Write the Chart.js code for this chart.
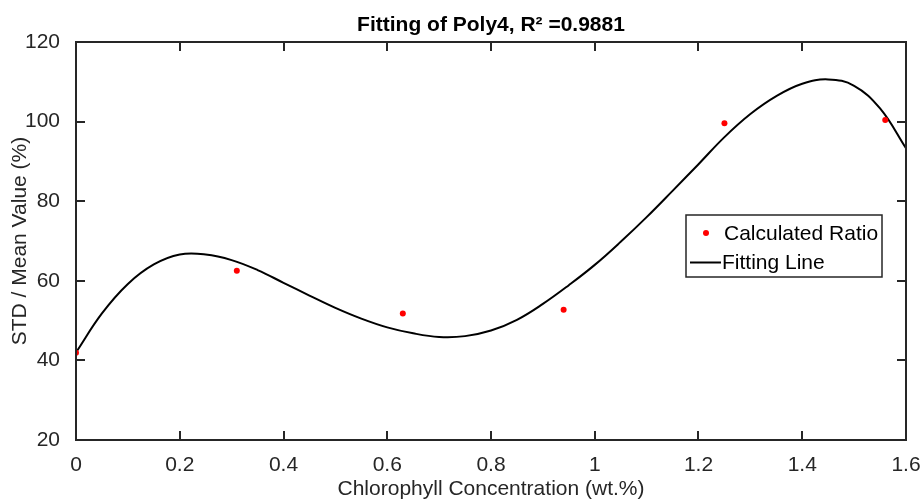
<!DOCTYPE html>
<html>
<head>
<meta charset="utf-8">
<script src="https://cdn.jsdelivr.net/npm/chart.js@4/dist/chart.umd.min.js"></script>
<style>
  html, body { margin: 0; padding: 0; background: #fff; }
  #wrap { width: 922px; height: 500px; }
</style>
</head>
<body>
<div id="wrap"><canvas id="grafico"></canvas></div>
<script>
// Pontos medidos (razão calculada) e a curva do ajuste polinomial de grau 4,
// lidos da figura original (curva lida a cada 0.05).
const concentracao = [0, 0.31, 0.63, 0.94, 1.25, 1.56];
const razao = [41.9, 62.5, 51.8, 52.7, 99.6, 100.4];

const ajusteX = [0, 0.05, 0.1, 0.15, 0.2, 0.25, 0.3, 0.35, 0.4, 0.45, 0.5,
  0.55, 0.6, 0.65, 0.7, 0.75, 0.8, 0.85, 0.9, 0.95, 1, 1.05, 1.1, 1.15,
  1.2, 1.25, 1.3, 1.35, 1.4, 1.45, 1.5, 1.55, 1.6];
const ajusteY = [42.0, 51.8, 59.2, 64.1, 66.6, 66.6, 65.2, 62.7, 59.5, 56.3, 53.2,
  50.5, 48.3, 46.8, 45.9, 46.1, 47.5, 50.2, 54.2, 58.9, 64.0, 69.8, 76.0, 82.6,
  89.3, 96.1, 101.9, 106.4, 109.5, 110.6, 109.0, 103.3, 93.3];

const ticksX = [0, 0.2, 0.4, 0.6, 0.8, 1, 1.2, 1.4, 1.6];
const ticksY = [20, 40, 60, 80, 100, 120];

const titulo = "Fitting of Poly4, R\u00B2 =0.9881";
const tituloX = "Chlorophyll Concentration (wt.%)";
const tituloY = "STD / Mean Value (%)";
const rotulos = ["Calculated Ratio", "Fitting Line"];

const COR_EIXO = "#262626";
const FONTE = "'Liberation Sans', Arial, sans-serif";
const TAM_FONTE = 21;

// moldura com ticks para dentro nos quatro lados (estilo MATLAB)
const moldura = {
  id: "moldura",
  afterDatasetsDraw(chart) {
    const { ctx, chartArea: a, scales } = chart;
    const tam = 9;
    ctx.save();
    ctx.strokeStyle = COR_EIXO;
    ctx.lineWidth = 2;
    ctx.beginPath();
    ticksX.forEach((v) => {
      const px = Math.round(scales.x.getPixelForValue(v));
      ctx.moveTo(px, a.bottom); ctx.lineTo(px, a.bottom - tam);
      ctx.moveTo(px, a.top); ctx.lineTo(px, a.top + tam);
    });
    ticksY.forEach((v) => {
      const py = Math.round(scales.y.getPixelForValue(v));
      ctx.moveTo(a.left, py); ctx.lineTo(a.left + tam, py);
      ctx.moveTo(a.right, py); ctx.lineTo(a.right - tam, py);
    });
    ctx.stroke();
    ctx.strokeRect(a.left, a.top, a.right - a.left, a.bottom - a.top);
    ctx.restore();
  },
};

// legenda dentro da área do gráfico, canto direito
const legenda = {
  id: "legenda",
  afterDraw(chart) {
    const { ctx, chartArea: a } = chart;
    const x = a.right - 220, y = a.top + 173, w = 196, h = 62;
    ctx.save();
    ctx.fillStyle = "#fff";
    ctx.fillRect(x, y, w, h);
    ctx.strokeStyle = COR_EIXO;
    ctx.lineWidth = 1.5;
    ctx.strokeRect(x, y, w, h);

    ctx.fillStyle = "#ff0000";
    ctx.beginPath();
    ctx.arc(x + 20, y + 18, 3, 0, Math.PI * 2);
    ctx.fill();

    ctx.strokeStyle = "#000";
    ctx.lineWidth = 2;
    ctx.beginPath();
    ctx.moveTo(x + 4, y + 47.5);
    ctx.lineTo(x + 35, y + 47.5);
    ctx.stroke();

    ctx.fillStyle = "#000";
    ctx.font = TAM_FONTE + "px " + FONTE;
    ctx.textBaseline = "middle";
    ctx.fillText(rotulos[0], x + 38, y + 19);
    ctx.fillText(rotulos[1], x + 36, y + 48);
    ctx.restore();
  },
};

new Chart(document.getElementById("grafico"), {
  type: "scatter",
  data: {
    datasets: [
      {
        label: rotulos[0],
        data: concentracao.map((c, i) => ({ x: c, y: razao[i] })),
        backgroundColor: "#ff0000",
        borderColor: "#ff0000",
        pointRadius: 3,
        pointBorderWidth: 0,
        order: 0,
      },
      {
        label: rotulos[1],
        data: ajusteX.map((c, i) => ({ x: c, y: ajusteY[i] })),
        showLine: true,
        borderColor: "#000",
        borderWidth: 2,
        pointRadius: 0,
        tension: 0.4,
        order: 1,
      },
    ],
  },
  options: {
    responsive: true,
    maintainAspectRatio: false,
    animation: false,
    layout: { padding: { top: 0, right: 16, left: 0, bottom: 0 } },
    scales: {
      x: {
        type: "linear",
        min: 0,
        max: 1.6,
        afterBuildTicks: (s) => { s.ticks = ticksX.map((v) => ({ value: v })); },
        afterFit: (s) => { s.height = 60; s.paddingLeft = 0; s.paddingRight = 0; },
        grid: { display: false },
        border: { display: false },
        ticks: {
          color: COR_EIXO,
          padding: 5,
          maxRotation: 0,
          font: { family: FONTE, size: TAM_FONTE },
          callback: (v) => String(v),
        },
        title: {
          display: true,
          text: tituloX,
          color: COR_EIXO,
          font: { family: FONTE, size: TAM_FONTE, lineHeight: 1 },
          padding: { top: 0, bottom: 0 },
        },
      },
      y: {
        min: 20,
        max: 120,
        afterBuildTicks: (s) => { s.ticks = ticksY.map((v) => ({ value: v })); },
        afterFit: (s) => { s.width = 76; s.paddingTop = 0; s.paddingBottom = 0; },
        grid: { display: false },
        border: { display: false },
        ticks: {
          color: COR_EIXO,
          padding: 8,
          font: { family: FONTE, size: TAM_FONTE },
        },
        title: {
          display: true,
          text: tituloY,
          color: COR_EIXO,
          font: { family: FONTE, size: TAM_FONTE, lineHeight: 1 },
          padding: { top: 10, bottom: 0 },
        },
      },
    },
    plugins: {
      legend: { display: false },
      tooltip: { enabled: false },
      title: {
        display: true,
        fullSize: false,
        text: titulo,
        color: "#000",
        font: { family: FONTE, size: TAM_FONTE, weight: "bold", lineHeight: 1.2 },
        padding: { top: 13, bottom: 3.8 },
      },
    },
  },
  plugins: [moldura, legenda],
});
</script>
</body>
</html>
